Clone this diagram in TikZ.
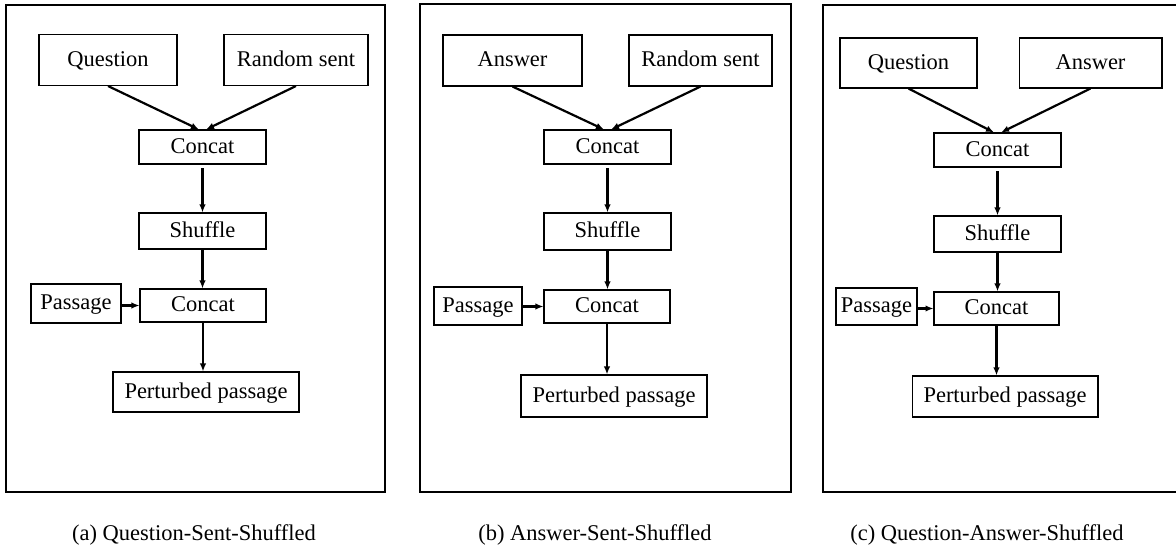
\documentclass[tikz,border=0pt]{standalone}
\usepackage{fontspec}
\setmainfont{Liberation Serif}
\usetikzlibrary{arrows.meta}
\tikzset{
  box/.style={draw, line width=.6pt, inner sep=0pt, font=\fontsize{12.8}{15}\selectfont,
    text height=.86em, text depth=.14em},
  arr/.style={-{Latex[length=1.6mm,width=1.3mm]}, line width=1.25pt},
  panel/.style={draw, line width=.9pt},
  subcap/.style={anchor=base, inner sep=0pt, font=\fontsize{12.8}{15}\selectfont}
}
\begin{document}
\begin{tikzpicture}[x=.02cm, y=-.02cm]
\useasboundingbox (0,0) rectangle (1176,550);
% (a) question + random sentence
\draw[panel](6,5) rectangle (385,492);
\node[box, minimum width=2.76cm, minimum height=1.02cm](qa) at (108,60){Question};
\node[box, minimum width=2.88cm, minimum height=1.02cm](ra) at (296,60){Random sent};
\node[box, minimum width=2.54cm, minimum height=.68cm](ca) at (202.5,147){Concat};
\node[box, minimum width=2.54cm, minimum height=.72cm](sa) at (202.5,231){Shuffle};
\node[box, minimum width=2.52cm, minimum height=.66cm](ka) at (203,305.5){Concat};
\node[box, minimum width=1.8cm, minimum height=.78cm](pa) at (76,303.5){Passage};
\node[box, minimum width=3.72cm, minimum height=.8cm](oa) at (206,392){Perturbed passage};
\draw[arr](qa.south)--([xshift=-2pt]ca.north);
\draw[arr](ra.south)--([xshift=2pt]ca.north);
\draw[arr, shorten <=2pt](ca.south)--(ca.south |- sa.north);
\draw[arr](sa.south)--(sa.south |- ka.north);
\draw[arr](pa.east |- ka.west)--(ka.west);
\draw[arr](ka.south)--(ka.south |- oa.north);
\node[subcap](capa) at (194,540){(a) Question-Sent-Shuffled};
% (b) answer + random sentence
\draw[panel](420,4) rectangle (791,492);
\node[box, minimum width=2.78cm, minimum height=1.02cm](qb) at (512.5,60.5){Answer};
\node[box, minimum width=2.86cm, minimum height=1.02cm](rb) at (700.5,60.5){Random sent};
\node[box, minimum width=2.54cm, minimum height=.68cm](cb) at (607.5,147){Concat};
\node[box, minimum width=2.54cm, minimum height=.74cm](sb) at (607.5,231.5){Shuffle};
\node[box, minimum width=2.52cm, minimum height=.66cm](kb) at (607,306.5){Concat};
\node[box, minimum width=1.76cm, minimum height=.76cm](pb) at (478,306){Passage};
\node[box, minimum width=3.72cm, minimum height=.84cm](ob) at (614,396){Perturbed passage};
\draw[arr](qb.south)--([xshift=-2pt]cb.north);
\draw[arr](rb.south)--([xshift=2pt]cb.north);
\draw[arr, shorten <=2pt](cb.south)--(cb.south |- sb.north);
\draw[arr](sb.south)--(sb.south |- kb.north);
\draw[arr](pb.east |- kb.west)--(kb.west);
\draw[arr](kb.south)--(kb.south |- ob.north);
\node[subcap](capb) at (595,540){(b) Answer-Sent-Shuffled};
% (c) question + answer
\draw[panel](823,5) rectangle (1185,492);
\node[box, minimum width=2.74cm, minimum height=1cm](qc) at (908.5,63){Question};
\node[box, minimum width=2.86cm, minimum height=1cm](rc) at (1090.5,63){Answer};
\node[box, minimum width=2.54cm, minimum height=.68cm](cc) at (997.5,150){Concat};
\node[box, minimum width=2.54cm, minimum height=.72cm](sc) at (997.5,234){Shuffle};
\node[box, minimum width=2.5cm, minimum height=.66cm](kc) at (996.5,308.5){Concat};
\node[box, minimum width=1.62cm, minimum height=.74cm](pc) at (876.5,306.5){Passage};
\node[box, minimum width=3.72cm, minimum height=.82cm](oc) at (1005,396.5){Perturbed passage};
\draw[arr](qc.south)--([xshift=-2pt]cc.north);
\draw[arr](rc.south)--([xshift=2pt]cc.north);
\draw[arr, shorten <=2pt](cc.south)--(cc.south |- sc.north);
\draw[arr](sc.south)--(sc.south |- kc.north);
\draw[arr](pc.east |- kc.west)--(kc.west);
\draw[arr](kc.south)--(kc.south |- oc.north);
\node[subcap](capc) at (987,540){(c) Question-Answer-Shuffled};
\end{tikzpicture}
\end{document}
